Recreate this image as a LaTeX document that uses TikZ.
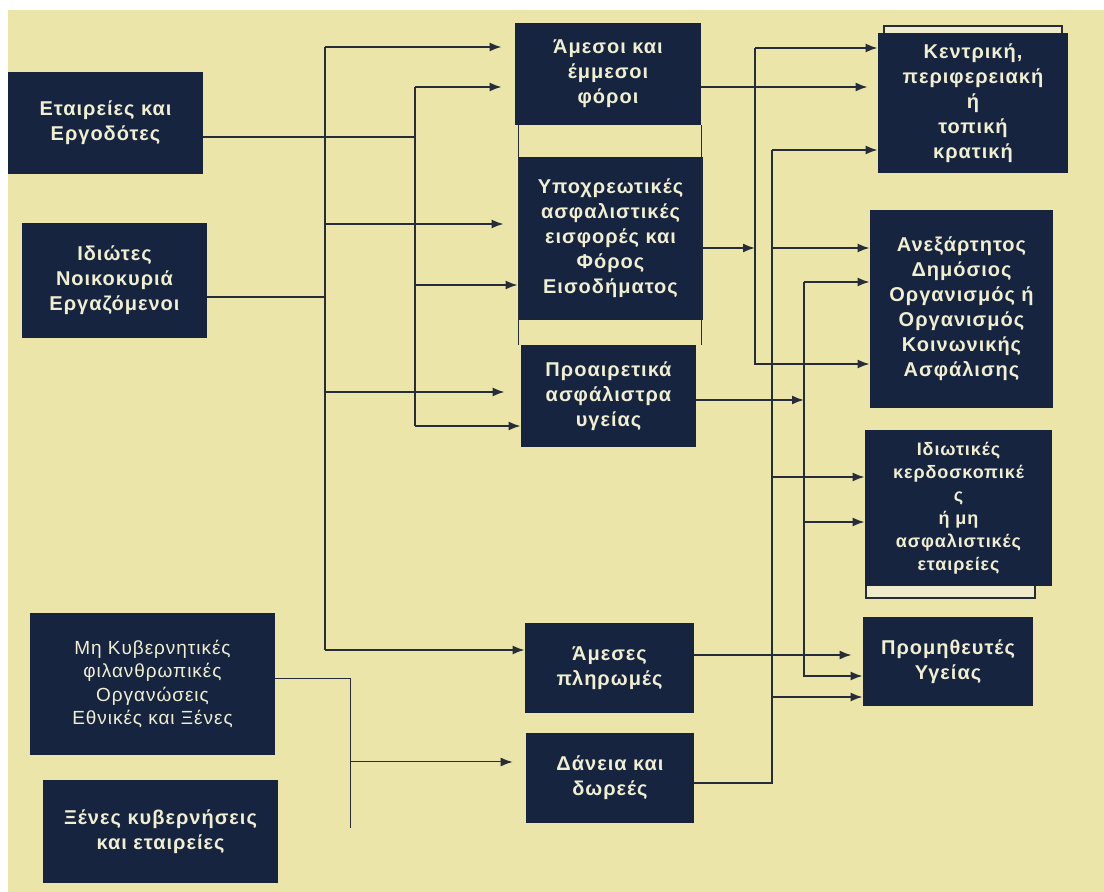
\documentclass[tikz,border=0pt]{standalone}
\usepackage{fontspec}
\setmainfont{Liberation Sans}
\newfontfamily\boxfont[LetterSpace=5]{Liberation Sans}
\usetikzlibrary{calc,arrows.meta}

\definecolor{screen}{HTML}{EBE5A9}
\definecolor{navy}{HTML}{16243F}
\definecolor{cream}{HTML}{F1EFD2}
\definecolor{ink}{HTML}{262C3A}
\definecolor{pale}{HTML}{F0ECCB}

\begin{document}
\begin{tikzpicture}[x=0.5pt,y=-0.5pt,
    box/.style={fill=navy, text=cream, align=center, inner sep=0pt,
      font=\boxfont\bfseries\fontsize{10}{12.5}\selectfont},
    link/.style={draw=ink, line width=0.9pt},
    arr/.style={link, -{Latex[length=6pt,width=4.5pt]}},
    thinlink/.style={draw=ink, line width=0.5pt},
    thinarr/.style={thinlink, -{Latex[length=6pt,width=4.5pt]}},
    frame/.style={draw=ink, line width=0.6pt}]
    \useasboundingbox (0,0) rectangle (1104,892);
    \fill[white] (0,0) rectangle (1104,892);
    \fill[screen] (8,10) rectangle (1104,892);

    % sources
    \node[box, minimum width=97.5pt, minimum height=51pt] (ergo) at (105.5,123) {Εταιρείες και\\Εργοδότες};
    \node[box, minimum width=92.5pt, minimum height=57.5pt] (idiotes) at (114.5,280.5) {Ιδιώτες\\Νοικοκυριά\\Εργαζόμενοι};
    \node[box, font=\boxfont\fontsize{9.5}{11.8}\selectfont, minimum width=122.5pt, minimum height=71pt] (mko) at (152.5,684) {Μη Κυβερνητικές\\φιλανθρωπικές\\Οργανώσεις\\Εθνικές και Ξένες};
    \node[box, minimum width=117.5pt, minimum height=51.5pt] (xenes) at (160.5,831.5) {Ξένες κυβερνήσεις\\και εταιρείες};

    % financing schemes
    \node[box, minimum width=93pt, minimum height=51pt] (foroi) at (608,74) {Άμεσοι και\\έμμεσοι\\φόροι};
    \node[box, minimum width=92.5pt, minimum height=81.5pt] (eisfores) at (610.5,238.5) {Υποχρεωτικές\\ασφαλιστικές\\εισφορές και\\Φόρος\\Εισοδήματος};
    \node[box, minimum width=87.5pt, minimum height=51pt] (proair) at (608.5,396) {Προαιρετικά\\ασφάλιστρα\\υγείας};
    \node[box, minimum width=84.5pt, minimum height=45pt] (ameses) at (609.5,668) {Άμεσες\\πληρωμές};
    \node[box, minimum width=84pt, minimum height=45pt] (daneia) at (610,778) {Δάνεια και\\δωρεές};
    \draw[frame] ([xshift=0.5pt]eisfores.north west |- foroi.south) -- ([xshift=0.5pt]eisfores.south west |- proair.north);
    \draw[frame] ([xshift=-1pt]eisfores.north east |- foroi.south) -- ([xshift=-1pt]eisfores.south east |- proair.north);

    % agents
    \draw[frame, fill=pale] (884,26) rectangle (1062,170);
    \node[box, minimum width=95pt, minimum height=70pt] (kratos) at (973,103) {Κεντρική,\\περιφερειακή\\ή\\τοπική\\κρατική};
    \node[box, minimum width=91.5pt, minimum height=99pt] (anex) at (961.5,309) {Ανεξάρτητος\\Δημόσιος\\Οργανισμός ή\\Οργανισμός\\Κοινωνικής\\Ασφάλισης};
    \draw[frame, fill=pale] (866,440) rectangle (1035,598);
    \node[box, font=\boxfont\bfseries\fontsize{9}{11.5}\selectfont, minimum width=93.5pt, minimum height=78pt] (idiotikes) at (958.5,508) {Ιδιωτικές\\κερδοσκοπικέ\\ς\\ή μη\\ασφαλιστικές\\εταιρείες};
    \node[box, minimum width=85pt, minimum height=44.5pt] (promith) at (948,661.5) {Προμηθευτές\\Υγείας};

    % left trunks
    \coordinate (t1top) at (325,47);
    \coordinate (t1mid) at (325,297);
    \coordinate (t1bot) at (325,650);
    \coordinate (t2top) at (415,87);
    \coordinate (t2mid) at (415,137);
    \coordinate (t2bot) at (415,426);
    \coordinate (t6top) at (350,679);
    \coordinate (t6mid) at (350,762);
    \coordinate (t6bot) at (350,828);

    \draw[link] (idiotes.east |- t1mid) -- (t1mid);
    \draw[link] (t1top) -- (t1bot);
    \draw[arr] (t1top) -- ([xshift=-6.5pt]foroi.west |- t1top);
    \draw[arr] (325,224) -- ([xshift=-7pt]eisfores.west |- 325,224);
    \draw[arr] (325,392) -- ([xshift=-8pt]proair.west |- 325,392);
    \draw[arr] (t1bot) -- (ameses.west |- t1bot);

    \draw[link] (ergo.east |- t2mid) -- (t2mid);
    \draw[link] (t2top) -- (t2bot);
    \draw[arr] (t2top) -- ([xshift=-6.5pt]foroi.west |- t2top);
    \draw[arr] (415,285) -- (eisfores.west |- 415,285);
    \draw[arr] (t2bot) -- (proair.west |- t2bot);

    \draw[thinlink] (mko.east |- t6top) -- (t6top) -- (t6bot);
    \draw[thinarr] (t6mid) -- ([xshift=-6.5pt]daneia.west |- t6mid);

    % right trunks
    \coordinate (t3top) at (755,48);
    \coordinate (t3bot) at (755,364);
    \coordinate (t4top) at (772,150);
    \coordinate (t4bot) at (772,783);
    \coordinate (t5top) at (804,282);
    \coordinate (t5bot) at (804,676);

    \draw[arr] (foroi.east |- 0,87) -- ([xshift=-5pt]kratos.west |- 0,87);
    \draw[arr] (eisfores.east |- 0,248) -- (t3top |- 0,248);
    \draw[arr] (t3top) -- (kratos.west |- t3top);
    \draw[arr] (t3top) -- (t3bot) -- (anex.west |- t3bot);

    \draw[link] (daneia.east |- t4bot) -- (t4bot) -- (t4top);
    \draw[arr] (t4top) -- (kratos.west |- t4top);
    \draw[arr] (772,248) -- (anex.west |- 772,248);
    \draw[arr] (772,477) -- (idiotikes.west |- 772,477);
    \draw[arr] (772,697) -- (promith.west |- 772,697);

    \draw[arr] (proair.east |- 0,400) -- (t5top |- 0,400);
    \draw[arr] (t5top) -- (anex.west |- t5top);
    \draw[arr] (t5top) -- (t5bot) -- (promith.west |- t5bot);
    \draw[arr] (804,522) -- (idiotikes.west |- 804,522);
    \draw[arr] (ameses.east |- 0,655) -- ([xshift=-5.5pt]promith.west |- 0,655);
\end{tikzpicture}
\end{document}
